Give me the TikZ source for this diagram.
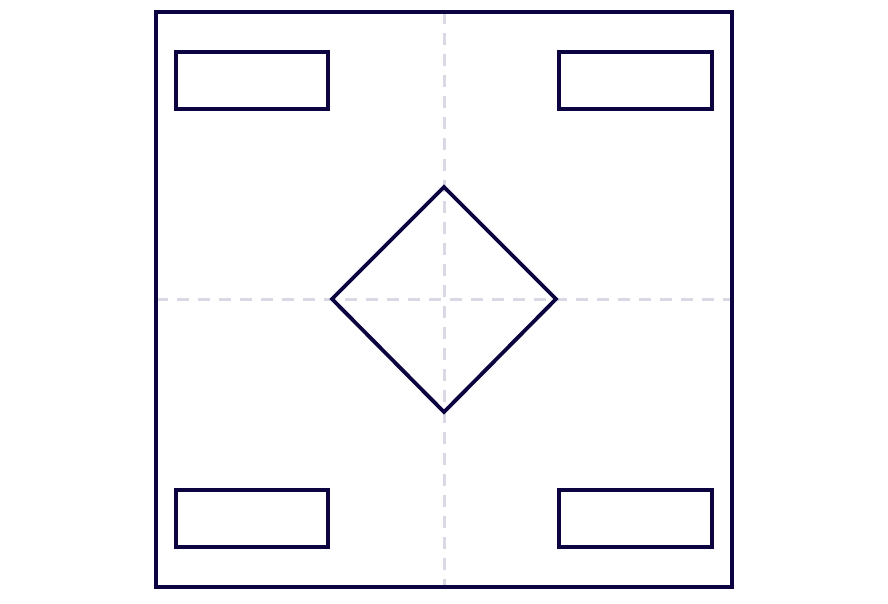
\documentclass[tikz,border=0pt]{standalone}
\definecolor{navy}{HTML}{0C0440}
\definecolor{guide}{HTML}{D9D8E5}
\begin{document}
\begin{tikzpicture}[x=1pt,y=-1pt,
  shapeline/.style={draw=navy,line width=3.8pt,line join=miter},
  guideline/.style={draw=guide,line width=3pt,dash pattern=on 12pt off 9pt}]
\useasboundingbox (0,0) rectangle (888,603);
\draw[guideline] (444,12) -- (444,587);
\draw[guideline] (156,299) -- (732,299);
\draw[shapeline] (156,12) rectangle (732,587);
\draw[shapeline] (176,52) rectangle (328,109);
\draw[shapeline] (559,52) rectangle (712,109);
\draw[shapeline] (176,490) rectangle (328,547);
\draw[shapeline] (559,490) rectangle (712,547);
\draw[shapeline] (444,187) -- (556,299) -- (444,412) -- (332,299) -- cycle;
\end{tikzpicture}
\end{document}
